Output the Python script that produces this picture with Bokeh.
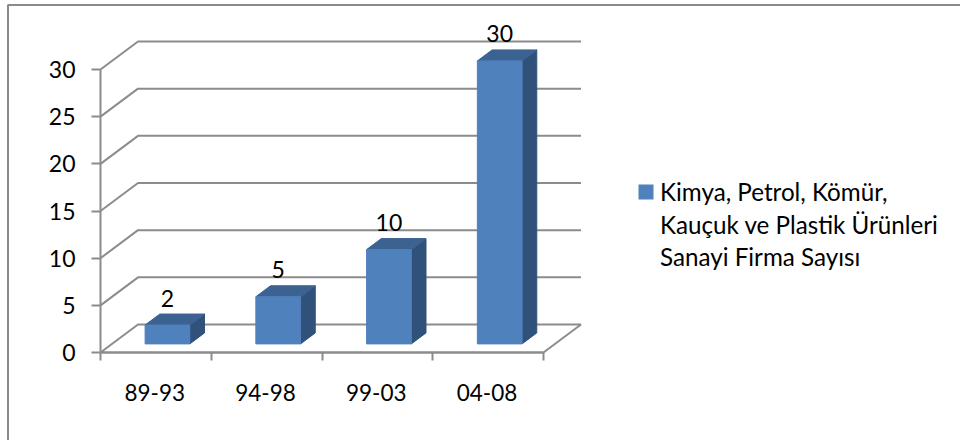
from bokeh.plotting import figure
from bokeh.models import LinearAxis, FixedTicker, Range1d
from bokeh.core.properties import value
from bokeh.embed import file_html
from bokeh.resources import INLINE

categories = ["89-93", "94-98", "99-03", "04-08"]
firm_counts = [2, 5, 10, 30]
y_ticks = [0, 5, 10, 15, 20, 25, 30]
legend_lines = ["Kimya, Petrol, Kömür,", "Kauçuk ve Plastik Ürünleri", "Sanayi Firma Sayısı"]

W, H = 960, 440
X0, Y0 = 100.0, 352.0      # pixel of the front axis origin
CAT_W = 110.75             # pixels per category
UNIT = 9.433               # pixels per value unit
FONT = "Lato"
GRID = "#8c8c8c"

def dx(px):   # pixel length -> x data
    return px / CAT_W
def dy(px):
    return px / UNIT
def X(px):    # pixel -> x data
    return (px - X0) / CAT_W
def Y(py):
    return (Y0 - py) / UNIT

p = figure(width=W, height=H, output_backend="svg", toolbar_location=None,
           x_range=Range1d(X(0), X(W)), y_range=Range1d(Y(H), Y(0)),
           min_border=0, margin=0, outline_line_color=None,
           x_axis_type=None, y_axis_type=None)
p.grid.visible = False

# outer chart frame (only its left and top edges are on the picture)
p.line([X(7.5), X(7.5), X(W)], [Y(H), Y(4.5), Y(4.5)], line_color="#8a8a8a", line_width=2)

# walls: one gridline per tick, running back then across
n = len(categories)
DEPTH_X, DEPTH_Y = dx(37.5), dy(28)
for t in y_ticks[1:]:
    p.line([0, DEPTH_X, n + DEPTH_X], [t, t + DEPTH_Y, t + DEPTH_Y], line_color=GRID, line_width=2)
# floor
p.line([0, DEPTH_X, n + DEPTH_X, n, 0], [0, DEPTH_Y, DEPTH_Y, 0, 0], line_color=GRID, line_width=2)

# bars
BAR_L, BAR_W = dx(44.6), dx(44.7)
BAR_DX, BAR_DY = dx(14.7), dy(11)
BASE = dy(8.6)
front_x, front_y, top_x, top_y, side_x, side_y = [], [], [], [], [], []
for i, v in enumerate(firm_counts):
    l, r = i + BAR_L, i + BAR_L + BAR_W
    b, t = BASE, BASE + v
    front_x.append([l, r, r, l]); front_y.append([b, b, t, t])
    top_x.append([l, r, r + BAR_DX, l + BAR_DX]); top_y.append([t, t, t + BAR_DY, t + BAR_DY])
    side_x.append([r, r + BAR_DX, r + BAR_DX, r]); side_y.append([b, b + BAR_DY, t + BAR_DY, t])
p.patches(side_x, side_y, fill_color="#30527a", line_color="#30527a", line_width=1)
p.patches(top_x, top_y, fill_color="#3c6292", line_color="#3c6292", line_width=1)
p.patches(front_x, front_y, fill_color="#4f81bd", line_color="#4f81bd", line_width=1)

# value labels
p.text([i + BAR_L + BAR_W / 2 for i in range(n)], [BASE + v for v in firm_counts],
       text=[str(v) for v in firm_counts], text_font=value(FONT), text_font_size="23px",
       text_color="#000000", text_align="center", text_baseline="middle", y_offset=-27)

# axes
yax = LinearAxis(fixed_location=0, ticker=FixedTicker(ticks=y_ticks), bounds=(0, 30))
yax.axis_line_color = GRID; yax.axis_line_width = 2
yax.major_tick_line_color = GRID; yax.major_tick_line_width = 2
yax.major_tick_out = 9; yax.major_tick_in = 0
yax.minor_tick_out = 0; yax.minor_tick_in = 0
yax.major_label_text_font = FONT; yax.major_label_text_font_size = "23px"
yax.major_label_text_color = "#000000"; yax.major_label_standoff = 16
p.add_layout(yax, "left")

LABEL_POS = 0.49
xax = LinearAxis(fixed_location=0, bounds=(0, n),
                 ticker=FixedTicker(ticks=[i + LABEL_POS for i in range(n)], minor_ticks=list(range(n + 1))))
xax.major_label_overrides = {i + LABEL_POS: c for i, c in enumerate(categories)}
xax.axis_line_color = GRID; xax.axis_line_width = 2
xax.major_tick_out = 0; xax.major_tick_in = 0
xax.minor_tick_line_color = GRID; xax.minor_tick_line_width = 2
xax.minor_tick_out = 8; xax.minor_tick_in = 0
xax.major_label_text_font = FONT; xax.major_label_text_font_size = "22.5px"
xax.major_label_text_color = "#000000"; xax.major_label_standoff = 23
p.add_layout(xax, "below")

# legend
p.quad(left=[X(638)], right=[X(653)], top=[Y(184)], bottom=[Y(199)], fill_color="#4f81bd", line_color=None)
p.text([X(659.5)] * 3, [Y(191), Y(224), Y(256)], text=legend_lines, text_font=value(FONT),
       text_font_size="24.2px", text_color="#000000", text_align="left", text_baseline="middle")

open("out.html", "w").write(file_html(p, INLINE))
